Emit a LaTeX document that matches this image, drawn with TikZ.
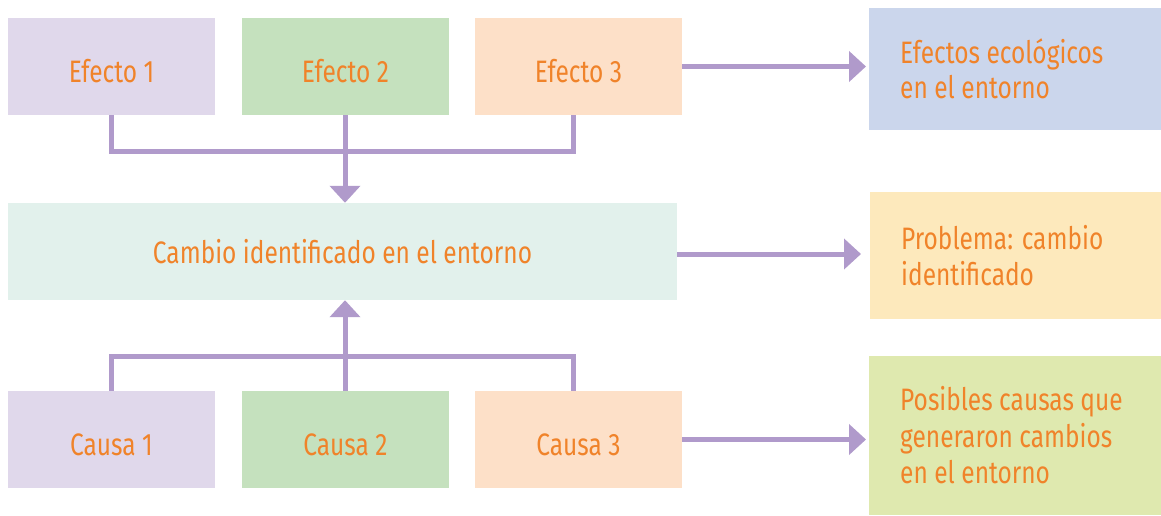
\documentclass[tikz,border=0pt]{standalone}
\usepackage{fontspec}
\setmainfont{Fira Sans}[FakeStretch=0.79]
\usetikzlibrary{arrows.meta}
\definecolor{boxlila}{HTML}{E0D8EB}
\definecolor{boxverde}{HTML}{C5E1BE}
\definecolor{boxdurazno}{HTML}{FDE0C8}
\definecolor{boxmenta}{HTML}{E2F1EC}
\definecolor{boxazul}{HTML}{CBD6EC}
\definecolor{boxamarillo}{HTML}{FDE9BC}
\definecolor{boxlima}{HTML}{DFE9AF}
\definecolor{flecha}{HTML}{B09ACB}
\definecolor{texto}{HTML}{F0832A}
\begin{document}
\begin{tikzpicture}[x=1pt,y=-1pt]
        \tikzset{caja/.style={fill=#1, text=texto, minimum width=207pt, minimum height=97pt,
                text height=31pt, text depth=0pt, font=\fontsize{31}{37}\selectfont, inner sep=0pt},
            nota/.style={fill=#1, text=texto, anchor=west, text width=250pt, align=flush left,
                inner xsep=31pt, font=\fontsize{31}{36.5}\selectfont},
            enlace/.style={draw=flecha, line width=5pt},
            punta/.style={enlace, -{Triangle[length=17pt,width=30pt]}}}
        \useasboundingbox (0,0) rectangle (1161,515);
        \node[caja=boxlila] (e1) at (111.5,66.5) {Efecto 1};
        \node[caja=boxverde] (e2) at (345.5,66.5) {Efecto 2};
        \node[caja=boxdurazno] (e3) at (578.5,66.5) {Efecto 3};
        \node[caja=boxmenta, minimum width=669pt, text height=23pt] (cambio) at (342.5,251.5) {Cambio identificado en el entorno};
        \node[caja=boxlila] (c1) at (111.5,439.5) {Causa 1};
        \node[caja=boxverde] (c2) at (345.5,439.5) {Causa 2};
        \node[caja=boxdurazno] (c3) at (578.5,439.5) {Causa 3};
        \node[nota=boxazul, minimum height=122pt] (efectos) at (869,69) {\raisebox{-2pt}{Efectos ecológicos}\\en el entorno};
        \node[nota=boxamarillo, minimum height=127pt] (problema) at (870,255.5) {Problema: cambio\\identificado};
        \node[nota=boxlima, minimum height=159pt] (causas) at (869,435.5) {Posibles causas que\\generaron cambios\\en el entorno};
        \coordinate (juntaarriba) at (345,151);
        \coordinate (juntaabajo) at (345,356);
        \draw[enlace] (e1.south) |- (juntaarriba);
        \draw[enlace] ([xshift=-5.5pt]e3.south) |- (juntaarriba);
        \draw[punta] ([xshift=-0.5pt]e2.south) -- ([xshift=2.5pt]cambio.north);
        \draw[enlace] (c1.north) |- (juntaabajo);
        \draw[enlace] ([xshift=-5.5pt]c3.north) |- (juntaabajo);
        \draw[punta] ([xshift=-0.5pt]c2.north) -- ([xshift=2.5pt]cambio.south);
        \draw[punta] (e3.east) -- ([xshift=-3pt]e3.east -| efectos.west);
        \draw[punta] ([yshift=-2.5pt]cambio.east) -- ([xshift=-9pt,yshift=-2.5pt]cambio.east -| problema.west);
        \draw[punta] (c3.east) -- ([xshift=-3pt]c3.east -| causas.west);
    \end{tikzpicture}
\end{document}
